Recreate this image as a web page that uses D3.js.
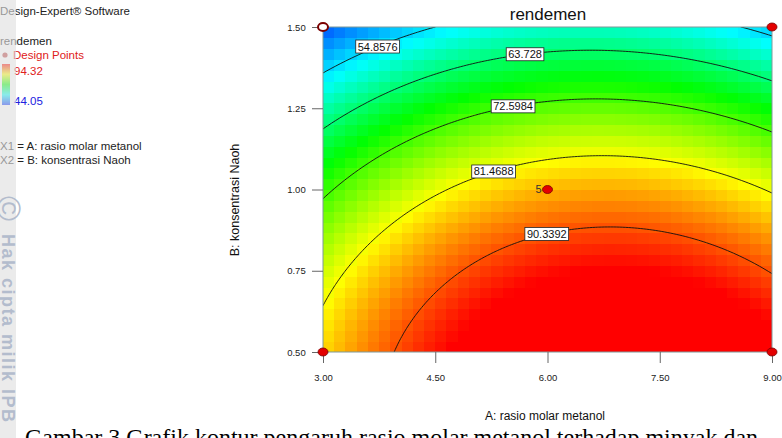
<!DOCTYPE html>
<html><head><meta charset="utf-8">
<script src="https://cdn.jsdelivr.net/npm/d3@7"></script>
<style>body{margin:0;background:#fff;} svg{display:block;}</style>
</head><body>
<svg id="chart" width="782" height="438"></svg>
<script>
// ---------- data ----------
const chartTitle = "rendemen";
const xTicks = [3.00, 4.50, 6.00, 7.50, 9.00];
const yTicks = [0.50, 0.75, 1.00, 1.25, 1.50];
const xLabel = "A: rasio molar metanol";
const yLabel = "B: konsentrasi Naoh";
// fitted quadratic model (coded units): intercept, A, B, AB, A^2, B^2
const modelCoef = [85.38, 4.72, -20.0, -1.43, -9.09, -6.6];
const contourLevels = [54.8576, 63.728, 72.5984, 81.4688, 90.3392];
const contourLabelA = [3.73, 5.70, 5.54, 5.28, 5.99];
const designA = [3, 9, 3, 9, 6];
const designB = [1.5, 1.5, 0.5, 0.5, 1.0];
const designReps = [1, 1, 1, 1, 5];
const designBelow = [true, false, false, false, false];
const legendRange = [44.05, 94.32];
const legendTitle = "rendemen";
const legendPoints = "Design Points";
const softwareName = "Design-Expert\u00AE Software";
const factorLines = ["X1 = A: rasio molar metanol", "X2 = B: konsentrasi Naoh"];
const caption = "Gambar 3 Grafik kontur pengaruh rasio molar metanol terhadap minyak dan";
const watermark = "Hak cipta milik IPB";

// ---------- setup ----------
const svg = d3.select("#chart");
const plot = {x0: 323, x1: 772, y0: 27, y1: 352};
const xs = d3.scaleLinear().domain([3, 9]).range([plot.x0, plot.x1]);
const ys = d3.scaleLinear().domain([0.5, 1.5]).range([plot.y1, plot.y0]);

function model(A, B) {
  const a = (A - 6) / 3, b = (B - 1) / 0.5;
  const c = modelCoef;
  return c[0] + c[1]*a + c[2]*b + c[3]*a*b + c[4]*a*a + c[5]*b*b;
}
const lo = legendRange[0], hi = legendRange[1];
const color = d3.scaleLinear()
  .domain([0, 0.25, 0.5, 0.75, 1].map(t => lo + t*(hi - lo)))
  .range(["#0028ff", "#00ffff", "#00ff00", "#ffff00", "#ff0000"])
  .clamp(true);

const defs = svg.append("defs");
defs.append("clipPath").attr("id", "clip").append("rect")
  .attr("x", plot.x0).attr("y", plot.y0)
  .attr("width", plot.x1 - plot.x0).attr("height", plot.y1 - plot.y0);

// ---------- heatmap cells ----------
const nx = 40, ny = 30;
const cells = [];
for (let i = 0; i < nx; i++) for (let j = 0; j < ny; j++) {
  const A0 = 3 + i*6/nx, A1 = 3 + (i+1)*6/nx;
  const B0 = 0.5 + j/ny, B1 = 0.5 + (j+1)/ny;
  cells.push({A0, A1, B0, B1, v: model((A0+A1)/2, (B0+B1)/2)});
}
svg.append("g").attr("clip-path", "url(#clip)").selectAll("rect").data(cells).join("rect")
  .attr("x", d => xs(d.A0)).attr("y", d => ys(d.B1))
  .attr("width", d => xs(d.A1) - xs(d.A0) + 0.6)
  .attr("height", d => ys(d.B0) - ys(d.B1) + 0.6)
  .attr("fill", d => color(d.v))
  .attr("shape-rendering", "crispEdges");

// ---------- contour lines ----------
const n = 151, m = 126;
const grid = new Array(n*m);
for (let j = 0; j < m; j++) for (let i = 0; i < n; i++) {
  grid[j*n + i] = model(3 + i*6/(n-1), 1.5 - j/(m-1));
}
const contours = d3.contours().size([n, m]).thresholds(contourLevels)(grid);
const proj = d3.geoTransform({point: function(cx, cy) {
  const A = 3 + (cx - 0.5)*6/(n-1), B = 1.5 - (cy - 0.5)/(m-1);
  this.stream.point(xs(A), ys(B));
}});
const path = d3.geoPath(proj);
svg.append("g").attr("clip-path", "url(#clip)").selectAll("path").data(contours).join("path")
  .attr("d", path).attr("fill", "none").attr("stroke", "#111").attr("stroke-width", 0.9);

// border
svg.append("rect").attr("x", plot.x0).attr("y", plot.y0)
  .attr("width", plot.x1 - plot.x0).attr("height", plot.y1 - plot.y0)
  .attr("fill", "none").attr("stroke", "#7f9a9a").attr("stroke-width", 1);

// contour labels
function solveB(A, L) {
  const a = (A - 6)/3, c = modelCoef;
  const qa = c[5], qb = c[2] + c[3]*a, qc = c[0] + c[1]*a + c[4]*a*a - L;
  const disc = Math.sqrt(qb*qb - 4*qa*qc);
  const r = [(-qb + disc)/(2*qa), (-qb - disc)/(2*qa)].filter(b => b >= -1 && b <= 1);
  return 1 + 0.5*r[0];
}
const lab = svg.append("g");
contourLevels.forEach((L, k) => {
  const A = contourLabelA[k], B = solveB(A, L);
  const g = lab.append("g").attr("transform", `translate(${xs(A)},${ys(B)})`);
  const t = g.append("text").text(String(L)).attr("text-anchor", "middle").attr("dy", "0.36em")
    .attr("font-family", "Liberation Sans, Arial, sans-serif").attr("font-size", 11).attr("fill", "#111");
  const bb = t.node().getBBox();
  g.insert("rect", "text").attr("x", bb.x - 2).attr("y", bb.y - 0.5)
    .attr("width", bb.width + 4).attr("height", bb.height + 1)
    .attr("fill", "#fff").attr("stroke", "#222").attr("stroke-width", 0.8);
});

// ---------- axes ----------
const font = "Liberation Sans, Arial, sans-serif";
const xAxis = svg.append("g").attr("transform", `translate(0,${plot.y1})`)
  .call(d3.axisBottom(xs).tickValues(xTicks).tickFormat(d3.format(".2f")).tickSize(11).tickSizeOuter(0));
const yAxis = svg.append("g").attr("transform", `translate(${plot.x0},0)`)
  .call(d3.axisLeft(ys).tickValues(yTicks).tickFormat(d3.format(".2f")).tickSize(11).tickSizeOuter(0));
[xAxis, yAxis].forEach(ax => {
  ax.select(".domain").remove();
  ax.selectAll(".tick line").attr("stroke", "#666");
  ax.selectAll(".tick text").attr("font-family", font).attr("font-size", 9.5).attr("fill", "#222");
});
xAxis.selectAll(".tick text").attr("dy", "1.55em");
yAxis.selectAll(".tick text").attr("dx", "-0.35em");

svg.append("text").attr("x", 545).attr("y", 420).attr("text-anchor", "middle")
  .attr("font-family", font).attr("font-size", 12).attr("fill", "#111").text(xLabel);
svg.append("text").attr("transform", "translate(239,200) rotate(-90)").attr("text-anchor", "middle")
  .attr("font-family", font).attr("font-size", 12.5).attr("fill", "#111").text(yLabel);
svg.append("text").attr("x", 548).attr("y", 20).attr("text-anchor", "middle")
  .attr("font-family", font).attr("font-size", 17).attr("fill", "#111").text(chartTitle);

// ---------- design points ----------
const pts = svg.append("g");
designA.forEach((A, k) => {
  pts.append("ellipse").attr("cx", xs(A)).attr("cy", ys(designB[k])).attr("rx", 5).attr("ry", 4)
    .attr("fill", designBelow[k] ? "#fff" : "#e30000")
    .attr("stroke", "#7a0000").attr("stroke-width", designBelow[k] ? 2 : 0.8);
  if (designReps[k] > 1) {
    pts.append("text").attr("x", xs(A) - 6).attr("y", ys(designB[k]) + 3.5).attr("text-anchor", "end")
      .attr("font-family", font).attr("font-size", 11).attr("fill", "#333").text(designReps[k]);
  }
});

// ---------- left legend ----------
const leg = svg.append("g").attr("font-family", font).attr("font-size", 11.5);
leg.append("text").attr("x", 0).attr("y", 15).attr("fill", "#222").text(softwareName);
leg.append("text").attr("x", 0).attr("y", 45).attr("fill", "#222").text(legendTitle);
leg.append("circle").attr("cx", 5).attr("cy", 55).attr("r", 2.6).attr("fill", "#b83a3a");
leg.append("text").attr("x", 13).attr("y", 59).attr("fill", "#e02020").text(legendPoints);
const grad = defs.append("linearGradient").attr("id", "lg").attr("x1", 0).attr("y1", 1).attr("x2", 0).attr("y2", 0);
[0, 0.25, 0.5, 0.75, 1].forEach(t => grad.append("stop").attr("offset", t).attr("stop-color", color(lo + t*(hi - lo))));
leg.append("rect").attr("x", 2).attr("y", 64).attr("width", 8).attr("height", 41).attr("fill", "url(#lg)");
leg.append("text").attr("x", 14).attr("y", 75).attr("fill", "#e02020").text(hi.toFixed(2));
leg.append("text").attr("x", 14).attr("y", 105).attr("fill", "#2020e0").text(lo.toFixed(2));
factorLines.forEach((s, k) => leg.append("text").attr("x", 0).attr("y", 150 + k*14).attr("fill", "#222").text(s));

// ---------- watermark strip ----------
svg.append("rect").attr("x", 0).attr("y", 0).attr("width", 16).attr("height", 438)
  .attr("fill", "rgb(222,222,222)").attr("fill-opacity", 0.62);
svg.append("text").attr("transform", "translate(-3,196) rotate(90)")
  .attr("font-family", font).attr("font-size", 34).attr("fill", "#b3bccd").text("\u00A9");
svg.append("text").attr("transform", "translate(2,234) rotate(90)")
  .attr("font-family", font).attr("font-weight", "bold").attr("font-size", 18).attr("letter-spacing", 1.5)
  .attr("fill", "#b3bccd").text(watermark);

// ---------- caption ----------
svg.append("text").attr("x", 25).attr("y", 445).attr("font-family", "Liberation Serif, Times New Roman, serif")
  .attr("font-size", 24).attr("fill", "#000").text(caption);
</script>
</body></html>
